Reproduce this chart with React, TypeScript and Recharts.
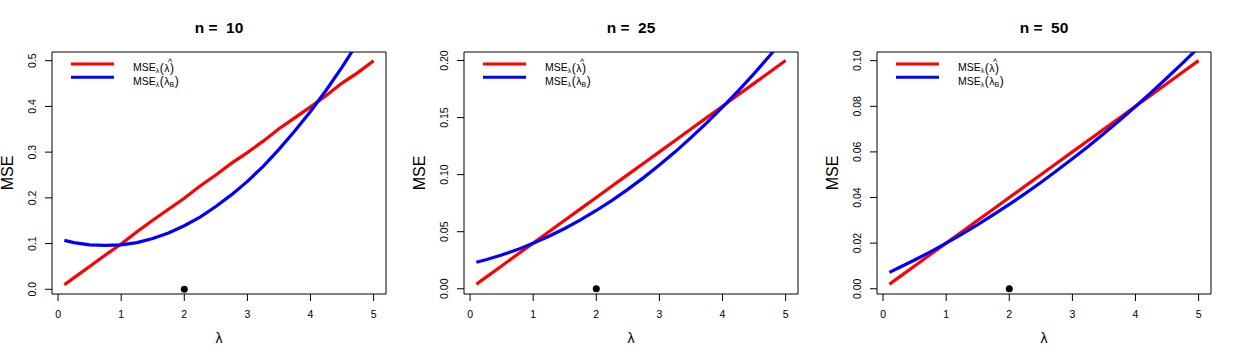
import React from 'react';
import { LineChart, Line, XAxis, YAxis, ReferenceArea, ReferenceDot } from 'recharts';

// λ grid
const lambdaGrid = [0.1, 0.25, 0.5, 0.75, 1, 1.25, 1.5, 1.75, 2, 2.25, 2.5, 2.75, 3, 3.25, 3.5, 3.75, 4, 4.25, 4.5, 4.75, 5];

// n = 10
const mseMle10 = [0.010, 0.025, 0.050, 0.075, 0.099, 0.126, 0.151, 0.175, 0.199, 0.226, 0.250, 0.276, 0.299, 0.324, 0.351, 0.375, 0.399, 0.424, 0.451, 0.474, 0.500];
const mseBayes10 = [0.107, 0.102, 0.097, 0.096, 0.097, 0.102, 0.111, 0.123, 0.139, 0.158, 0.181, 0.207, 0.236, 0.269, 0.306, 0.346, 0.389, 0.436, 0.486, 0.540, 0.597];

// n = 25
const mseMle25 = [0.004, 0.010, 0.020, 0.030, 0.040, 0.050, 0.060, 0.070, 0.080, 0.090, 0.100, 0.110, 0.120, 0.130, 0.140, 0.150, 0.160, 0.170, 0.180, 0.190, 0.200];
const mseBayes25 = [0.0232, 0.0254, 0.0295, 0.0343, 0.0398, 0.0460, 0.0528, 0.0604, 0.0686, 0.0775, 0.0871, 0.0974, 0.1084, 0.1200, 0.1324, 0.1454, 0.1591, 0.1735, 0.1886, 0.2044, 0.2208];

// n = 50
const mseMle50 = [0.002, 0.005, 0.010, 0.015, 0.020, 0.025, 0.030, 0.035, 0.040, 0.045, 0.050, 0.055, 0.060, 0.065, 0.070, 0.075, 0.080, 0.085, 0.090, 0.095, 0.100];
const mseBayes50 = [0.0072, 0.0092, 0.0126, 0.0162, 0.0200, 0.0240, 0.0281, 0.0325, 0.0370, 0.0417, 0.0466, 0.0517, 0.0570, 0.0624, 0.0681, 0.0739, 0.0799, 0.0861, 0.0925, 0.0990, 0.1058];

// tick labels
const xTicks = [0, 1, 2, 3, 4, 5];
const yTicks10 = [0, 0.1, 0.2, 0.3, 0.4, 0.5];
const yTickLabels10 = ['0.0', '0.1', '0.2', '0.3', '0.4', '0.5'];
const yTicks25 = [0, 0.05, 0.1, 0.15, 0.2];
const yTickLabels25 = ['0.00', '0.05', '0.10', '0.15', '0.20'];
const yTicks50 = [0, 0.02, 0.04, 0.06, 0.08, 0.1];
const yTickLabels50 = ['0.00', '0.02', '0.04', '0.06', '0.08', '0.10'];

const sampleSizes = [10, 25, 50];
const priorMean = { x: 2, y: 0 };

const FONT = "'Liberation Sans', Arial, sans-serif";
const X_DOMAIN: [number, number] = [-0.096, 5.196];

const panels = [
  { n: sampleSizes[0], mle: mseMle10, bayes: mseBayes10, yTicks: yTicks10, yLabels: yTickLabels10, yDomain: [-0.0103, 0.519] as [number, number], left: 0 },
  { n: sampleSizes[1], mle: mseMle25, bayes: mseBayes25, yTicks: yTicks25, yLabels: yTickLabels25, yDomain: [-0.0046, 0.2075] as [number, number], left: 412 },
  { n: sampleSizes[2], mle: mseMle50, bayes: mseBayes50, yTicks: yTicks50, yLabels: yTickLabels50, yDomain: [-0.0023, 0.1038] as [number, number], left: 825 },
];

const W = 412;
const H = 359;
const PLOT_L = 52;
const PLOT_R = 386;
const PLOT_T = 52;
const PLOT_B = 294;
const CX = (PLOT_L + PLOT_R) / 2;

const XTick = (props: any) => {
  const { x, payload } = props;
  return (
    <text x={x} y={318} textAnchor="middle" fontSize={10.5} fontFamily={FONT} fill="#000">
      {String(payload.value)}
    </text>
  );
};

const makeYTick = (ticks: number[], labels: string[]) => (props: any) => {
  const { y, payload } = props;
  const idx = ticks.findIndex((t) => Math.abs(t - payload.value) < 1e-9);
  const label = idx >= 0 ? labels[idx] : String(payload.value);
  const bx = 36.5;
  return (
    <text
      x={bx}
      y={y}
      transform={`rotate(-90, ${bx}, ${y})`}
      textAnchor="middle"
      fontSize={10.5}
      fontFamily={FONT}
      fill="#000"
    >
      {label}
    </text>
  );
};

const Overlay = ({ n }: { n: number }) => (
  <svg width={W} height={H} style={{ position: 'absolute', left: 0, top: 0, pointerEvents: 'none' }}>
    <text x={CX} y={33} textAnchor="middle" fontSize={15.5} fontWeight="bold" fontFamily={FONT} style={{ whiteSpace: 'pre' }}>
      {`n =  ${n}`}
    </text>
    <text x={CX} y={342.5} textAnchor="middle" fontSize={14} fontFamily={FONT}>λ</text>
    <text x={13} y={173} transform="rotate(-90, 13, 173)" textAnchor="middle" fontSize={16} fontFamily={FONT}>MSE</text>
    {/* legend */}
    <line x1={71} x2={114} y1={64} y2={64} stroke="#ff0000" strokeWidth={3} />
    <line x1={71} x2={114} y1={77.3} y2={77.3} stroke="#0000ff" strokeWidth={3} />
    <text x={133} y={71} fontSize={10.5} fontFamily={FONT} fill="#000">
      MSE
      <tspan fontSize={7} dy={2}>λ</tspan>
      <tspan fontSize={12} dy={-1.5} dx={0.5}>(</tspan>
      <tspan fontSize={10.5} dy={0} dx={0.5}>λ</tspan>
      <tspan fontSize={12} dx={0.5}>)</tspan>
    </text>
    <text x={168} y={64.5} fontSize={9} fontFamily={FONT} fill="#000">^</text>
    <text x={133} y={84.5} fontSize={10.5} fontFamily={FONT} fill="#000">
      MSE
      <tspan fontSize={7} dy={2}>λ</tspan>
      <tspan fontSize={12} dy={-1.5} dx={0.5}>(</tspan>
      <tspan fontSize={10.5} dy={0} dx={0.5}>λ</tspan>
      <tspan fontSize={7} dy={2}>B</tspan>
      <tspan fontSize={12} dy={-2} dx={0.5}>)</tspan>
    </text>
  </svg>
);

const Panel = ({ p }: { p: (typeof panels)[number] }) => {
  const rows = lambdaGrid.map((x, i) => ({ x, mle: p.mle[i], bayes: p.bayes[i] }));
  const YTick = makeYTick(p.yTicks, p.yLabels);
  return (
    <div style={{ position: 'absolute', left: p.left, top: 0, width: W, height: H }}>
      <LineChart width={W} height={H} data={rows} margin={{ top: PLOT_T, right: W - PLOT_R, bottom: 0, left: 0 }}>
        <XAxis
          dataKey="x"
          type="number"
          domain={X_DOMAIN}
          ticks={xTicks}
          allowDataOverflow
          axisLine={false}
          tickLine={{ stroke: '#000' }}
          tickSize={7}
          tickMargin={0}
          tick={<XTick />}
          height={H - PLOT_B}
          interval={0}
        />
        <YAxis
          type="number"
          domain={p.yDomain}
          ticks={p.yTicks}
          allowDataOverflow
          axisLine={false}
          tickLine={{ stroke: '#000' }}
          tickSize={7}
          tickMargin={0}
          tick={<YTick />}
          width={PLOT_L}
          interval={0}
        />
        <Line type="linear" dataKey="mle" stroke="#ff0000" strokeWidth={3.2} dot={false} isAnimationActive={false} />
        <Line type="linear" dataKey="bayes" stroke="#0000ff" strokeWidth={3.2} dot={false} isAnimationActive={false} />
        <ReferenceDot x={priorMean.x} y={priorMean.y} r={3.5} fill="#000" stroke="none" />
        <ReferenceArea x1={X_DOMAIN[0]} x2={X_DOMAIN[1]} y1={p.yDomain[0]} y2={p.yDomain[1]} fill="none" stroke="#000" strokeWidth={1} fillOpacity={0} />
      </LineChart>
      <Overlay n={p.n} />
    </div>
  );
};

export default function App() {
  return (
    <div style={{ position: 'absolute', left: 0, top: 0, width: 1237, height: 359, background: '#fff' }}>
      {panels.map((p) => (
        <Panel key={p.n} p={p} />
      ))}
    </div>
  );
}
